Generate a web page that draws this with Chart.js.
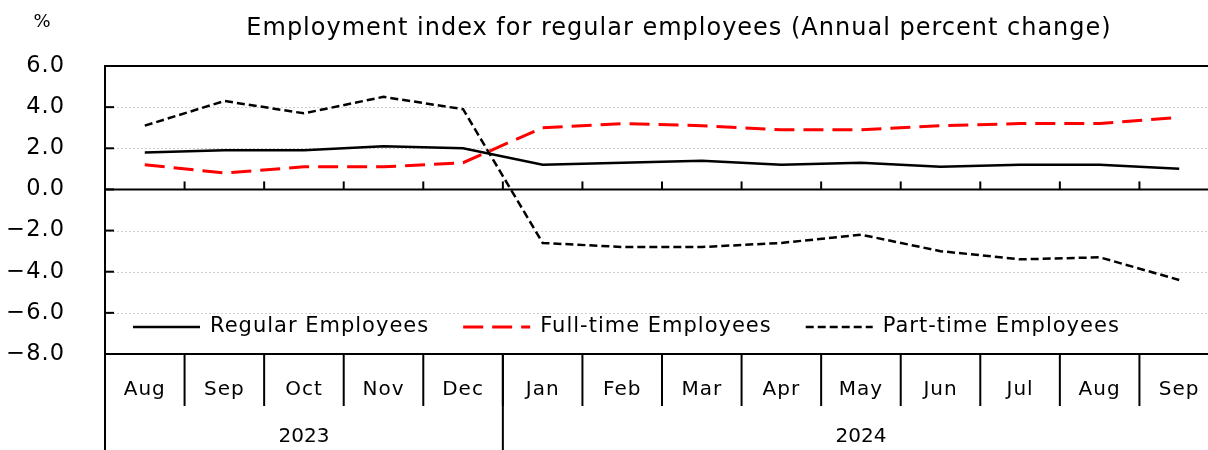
<!DOCTYPE html>
<html>
<head>
<meta charset="utf-8">
<script src="https://cdn.jsdelivr.net/npm/chart.js@4/dist/chart.umd.min.js"></script>
<style>
  html, body { margin: 0; padding: 0; overflow: hidden; background: #fff; }
  #wrap { width: 1220px; height: 450px; }
</style>
</head>
<body>
<div id="wrap"><canvas id="myChart" width="1220" height="450"></canvas></div>
<script>
// data
var months = ['Aug', 'Sep', 'Oct', 'Nov', 'Dec', 'Jan', 'Feb', 'Mar', 'Apr', 'May', 'Jun', 'Jul', 'Aug', 'Sep'];
var years = [{ label: '2023', from: 0, to: 4 }, { label: '2024', from: 5, to: 13 }];
var regular = [1.8, 1.9, 1.9, 2.1, 2.0, 1.2, 1.3, 1.4, 1.2, 1.3, 1.1, 1.2, 1.2, 1.0];
var fullTime = [1.2, 0.8, 1.1, 1.1, 1.3, 3.0, 3.2, 3.1, 2.9, 2.9, 3.1, 3.2, 3.2, 3.5];
var partTime = [3.1, 4.3, 3.7, 4.5, 3.9, -2.6, -2.8, -2.8, -2.6, -2.2, -3.0, -3.4, -3.3, -4.4];
var yTicks = [6, 4, 2, 0, -2, -4, -6, -8];

var FONT = "'DejaVu Sans', sans-serif";
var titleText = 'Employment index for regular employees (Annual percent change)';

function fmt(v) {
    var s = Math.abs(v).toFixed(1);
    return v < 0 ? '\u2212' + s : s;
}

function seg(ctx, x1, y1, x2, y2) {
    ctx.beginPath();
    ctx.moveTo(x1, y1);
    ctx.lineTo(x2, y2);
    ctx.stroke();
}

// grid, borders, month/year table, legend and title
var tablePlugin = {
    id: 'tablePlugin',
    beforeDraw: function (chart) {
        // the original text is a little wider spaced
        chart.ctx.letterSpacing = '1px';
    },
    beforeDatasetsDraw: function (chart) {
        var ctx = chart.ctx, a = chart.chartArea, y = chart.scales.y;
        ctx.save();
        ctx.strokeStyle = '#cfcfcf';
        ctx.lineWidth = 1;
        ctx.setLineDash([2, 2]);
        yTicks.forEach(function (v) {
            if (v === 0 || v === y.max || v === y.min) return;
            var py = Math.round(y.getPixelForValue(v)) + 0.5;
            seg(ctx, a.left, py, a.right, py);
        });
        ctx.restore();
    },
    afterDraw: function (chart) {
        var ctx = chart.ctx, a = chart.chartArea, x = chart.scales.x, y = chart.scales.y;
        var step = (a.right - a.left) / months.length;
        var y0 = y.getPixelForValue(0);
        var H = chart.height;
        ctx.save();
        ctx.strokeStyle = '#000';
        ctx.lineWidth = 2;
        // box
        seg(ctx, a.left, a.top, a.right, a.top);
        seg(ctx, a.left, a.bottom, a.right, a.bottom);
        seg(ctx, a.left, y0, a.right, y0);
        seg(ctx, a.left, a.top - 1, a.left, H);
        // y ticks (inside)
        yTicks.forEach(function (v) {
            var py = y.getPixelForValue(v);
            seg(ctx, a.left, py, a.left + 9, py);
        });
        // category boundaries
        for (var i = 1; i < months.length; i++) {
            var bx = a.left + i * step;
            seg(ctx, bx, y0 - 8, bx, y0);
            seg(ctx, bx, a.bottom, bx, a.bottom + 52);
        }
        // year separators + labels
        ctx.fillStyle = '#000';
        ctx.letterSpacing = '0px';
        ctx.font = '20px ' + FONT;
        ctx.textAlign = 'center';
        ctx.textBaseline = 'middle';
        years.forEach(function (g) {
            if (g.from > 0) {
                var sx = a.left + g.from * step;
                seg(ctx, sx, a.bottom, sx, H);
            }
            var cx = (x.getPixelForValue(g.from) + x.getPixelForValue(g.to)) / 2;
            ctx.fillText(g.label, cx, 437);
        });

        // legend inside the plot
        ctx.letterSpacing = '1px';
        ctx.font = '21px ' + FONT;
        ctx.textAlign = 'left';
        var lx = 133, ly = 327;
        chart.data.datasets.forEach(function (ds) {
            ctx.save();
            ctx.strokeStyle = ds.borderColor;
            ctx.lineWidth = ds.borderWidth;
            ctx.setLineDash(ds.borderDash || []);
            seg(ctx, lx, ly, lx + 67, ly);
            ctx.restore();
            lx += 77;
            ctx.fillText(ds.label, lx, ly);
            lx += ctx.measureText(ds.label).width + 34;
        });

        // title and unit
        ctx.textAlign = 'center';
        ctx.font = '24px ' + FONT;
        ctx.fillText(titleText, 679, 29);
        ctx.letterSpacing = '0px';
        ctx.font = '18px ' + FONT;
        ctx.fillText('%', 42, 22);
        ctx.restore();
    }
};

var ctx = document.getElementById('myChart').getContext('2d');
var myChart = new Chart(ctx, {
    type: 'line',
    plugins: [tablePlugin],
    data: {
        labels: months,
        datasets: [{
            label: 'Regular Employees',
            data: regular,
            borderColor: '#000',
            borderWidth: 2.5,
            pointRadius: 0,
            tension: 0
        }, {
            label: 'Full-time Employees',
            data: fullTime,
            borderColor: '#ff0000',
            borderWidth: 3,
            borderDash: [20, 9],
            pointRadius: 0,
            tension: 0
        }, {
            label: 'Part-time Employees',
            data: partTime,
            borderColor: '#000',
            borderWidth: 2.5,
            borderDash: [8, 4],
            pointRadius: 0,
            tension: 0
        }]
    },
    options: {
        responsive: false,
        animation: false,
        layout: { padding: { top: 66, right: 1, left: 0, bottom: 0 } },
        plugins: {
            legend: { display: false },
            title: { display: false },
            tooltip: { enabled: false }
        },
        scales: {
            x: {
                offset: true,
                grid: { display: false },
                border: { display: false },
                ticks: {
                    color: '#000',
                    font: { family: FONT, size: 20 },
                    padding: 16,
                    maxRotation: 0,
                    autoSkip: false
                },
                afterFit: function (scale) { scale.height = 96; }
            },
            y: {
                min: -8,
                max: 6,
                afterBuildTicks: function (scale) {
                    scale.ticks = yTicks.map(function (v) { return { value: v }; });
                },
                grid: { display: false, drawTicks: false },
                border: { display: false },
                ticks: {
                    color: '#000',
                    font: { family: FONT, size: 22.5 },
                    padding: 40,
                    callback: function (v) { return fmt(v); }
                },
                afterFit: function (scale) { scale.width = 105; }
            }
        }
    }
});
</script>
</body>
</html>
